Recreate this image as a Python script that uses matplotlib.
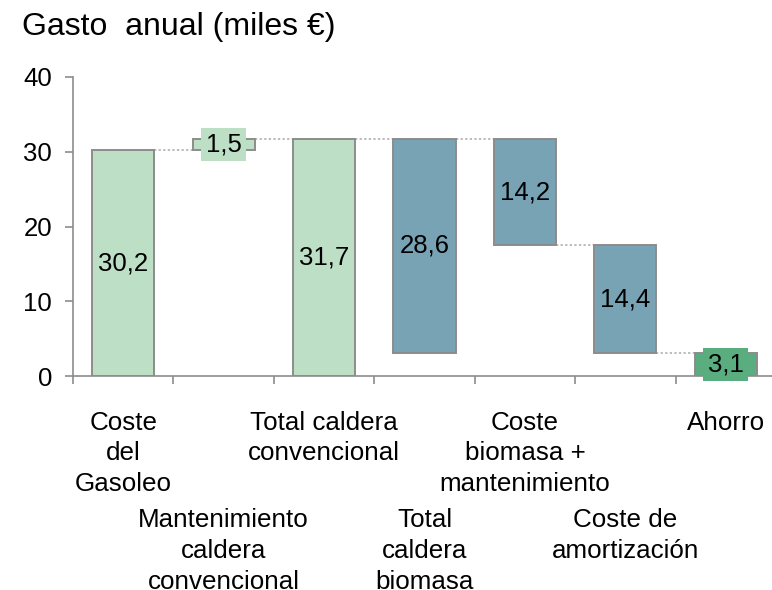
import matplotlib
matplotlib.use("Agg")
import matplotlib.pyplot as plt
import matplotlib.transforms as mtransforms

plt.rcParams['font.family'] = ['Liberation Sans', 'DejaVu Sans']

# datos del grafico de cascada
categorias = ["Coste\ndel\nGasoleo",
              "Mantenimiento\ncaldera\nconvencional",
              "Total caldera\nconvencional",
              "Total\ncaldera\nbiomasa",
              "Coste\nbiomasa +\nmantenimiento",
              "Coste de\namortización",
              "Ahorro"]
valores = [30.2, 1.5, 31.7, 28.6, 14.2, 14.4, 3.1]
bases = [0, 30.2, 0, 3.1, 17.5, 3.1, 0]
etiquetas = ["30,2", "1,5", "31,7", "28,6", "14,2", "14,4", "3,1"]

verde_claro = '#bddfc5'
azul = '#78a3b4'
verde = '#5aad7e'
colores = [verde_claro, verde_claro, verde_claro, azul, azul, azul, verde]
gris = '#8c8c8c'

fig = plt.figure(figsize=(7.72, 5.9), dpi=100)
ax = fig.add_axes([73/772, 1-376/590, 703/772, 299/590])

x = list(range(len(valores)))
ax.bar(x, valores, bottom=bases, width=0.62, color=colores,
       edgecolor=gris, linewidth=1.4, zorder=3)

# lineas de conexion entre barras
for i in range(len(valores) - 1):
    top_i = bases[i] + valores[i]
    bot_i = bases[i]
    top_n = bases[i+1] + valores[i+1]
    bot_n = bases[i+1]
    if abs(top_i - top_n) < 0.05 or abs(top_i - bot_n) < 0.05:
        nivel = top_i
    else:
        nivel = bot_i
    ax.plot([i + 0.31, i + 1 - 0.31], [nivel, nivel], color='#aaaaaa',
            linestyle=(0, (1.5, 1.5)), linewidth=1.1, zorder=2)

# etiquetas de valor
for i in range(len(valores)):
    yc = bases[i] + valores[i] / 2
    if valores[i] < 5:
        ax.text(i, yc, etiquetas[i], ha='center', va='center', fontsize=18.5,
                zorder=5, bbox=dict(boxstyle='square,pad=0.18', fc=colores[i], ec='none'))
    else:
        ax.text(i, yc, etiquetas[i], ha='center', va='center', fontsize=18.5, zorder=5)

ax.set_xlim(-0.5, 6.5)
ax.set_ylim(0, 40)
ax.set_yticks([0, 10, 20, 30, 40])
ax.set_xticks([i - 0.5 for i in range(8)])
ax.set_xticklabels([])
for s in ['top', 'right']:
    ax.spines[s].set_visible(False)
for s in ['left', 'bottom']:
    ax.spines[s].set_color(gris)
    ax.spines[s].set_linewidth(1.2)
ax.tick_params(axis='both', direction='out', length=6, width=1.2, color=gris,
               labelsize=18.5, labelcolor='black')
ax.tick_params(axis='y', pad=9)

# etiquetas de categoria en dos filas alternas
trans = mtransforms.blended_transform_factory(ax.transData, fig.transFigure)
for i, cat in enumerate(categorias):
    yfila = 0.304 if i % 2 == 0 else 0.139
    ax.text(i, yfila, cat, transform=trans, ha='center', va='top',
            fontsize=18.7, multialignment='center', linespacing=1.36)

fig.text(22/772, 1-35/590, "Gasto  anual (miles €)", fontsize=23,
         ha='left', va='baseline')

fig.savefig("out.png", dpi=100)
